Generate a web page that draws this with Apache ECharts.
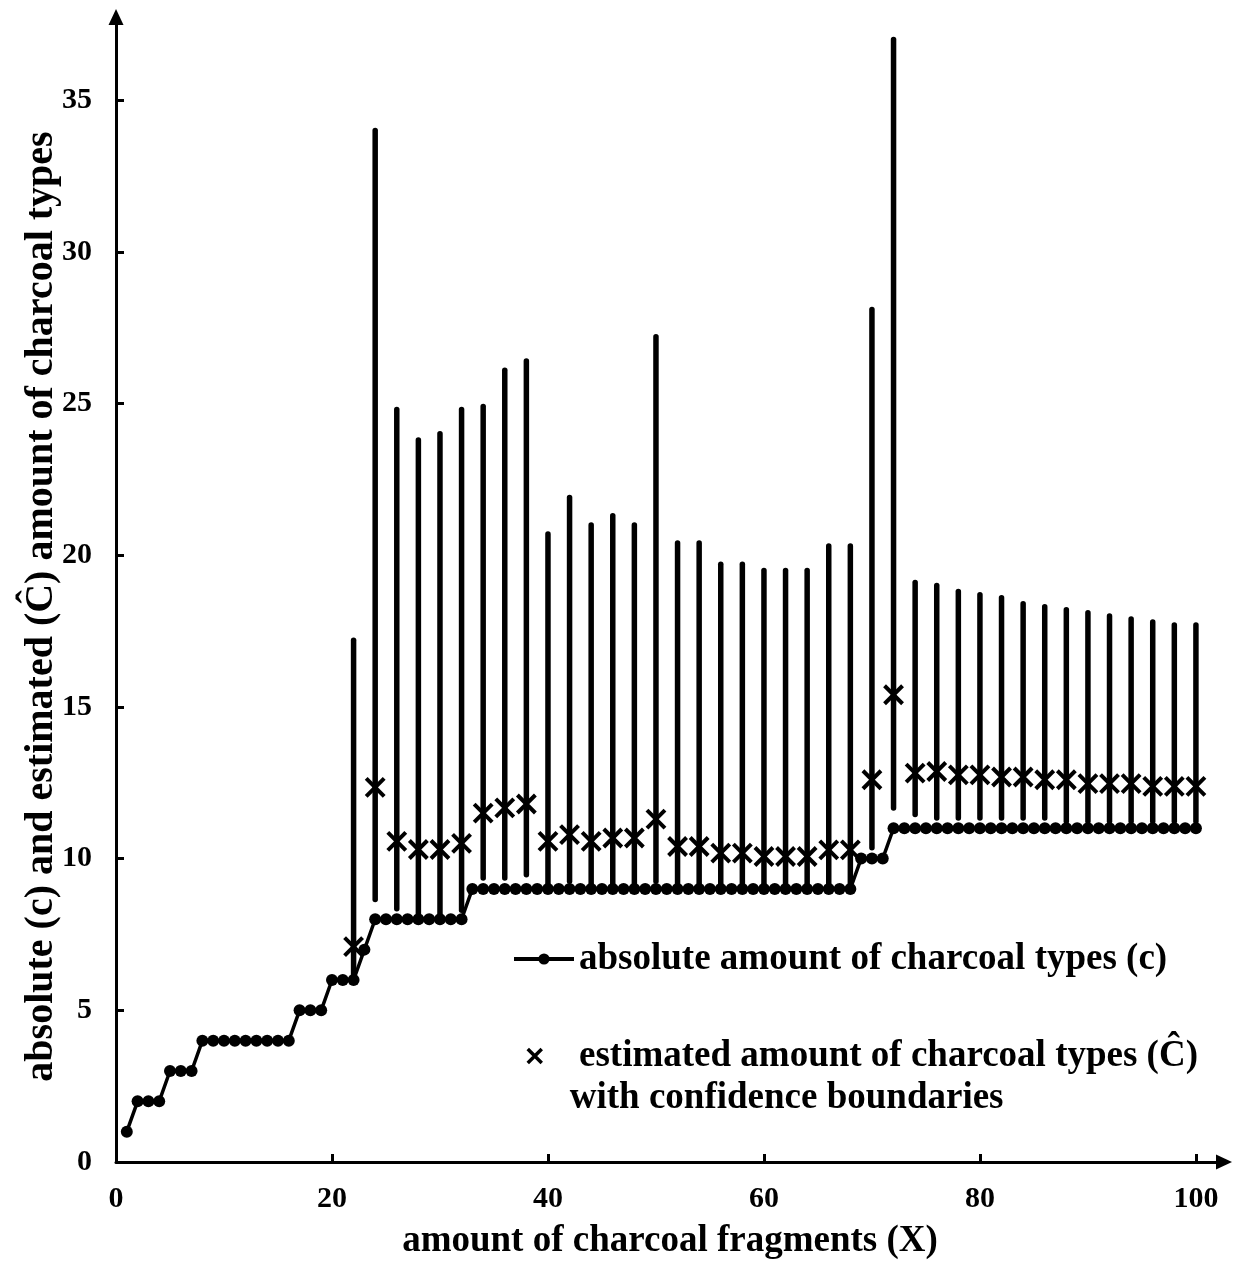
<!DOCTYPE html>
<html>
<head>
<meta charset="utf-8">
<script src="https://cdn.jsdelivr.net/npm/echarts@6/dist/echarts.min.js"></script>
<style>html,body{margin:0;padding:0;background:#fff;}#main{width:1237px;height:1279px;}</style>
</head>
<body>
<div id="main"></div>
<script>
// amount of charcoal fragments (X)
const fragments = [1,2,3,4,5,6,7,8,9,10,11,12,13,14,15,16,17,18,19,20,21,22,23,24,25,26,27,28,29,30,31,32,33,34,35,36,37,38,39,40,41,42,43,44,45,46,47,48,49,50,51,52,53,54,55,56,57,58,59,60,61,62,63,64,65,66,67,68,69,70,71,72,73,74,75,76,77,78,79,80,81,82,83,84,85,86,87,88,89,90,91,92,93,94,95,96,97,98,99,100];
// absolute amount of charcoal types (c)
const absoluteC = [1,2,2,2,3,3,3,4,4,4,4,4,4,4,4,4,5,5,5,6,6,6,7,8,8,8,8,8,8,8,8,8,9,9,9,9,9,9,9,9,9,9,9,9,9,9,9,9,9,9,9,9,9,9,9,9,9,9,9,9,9,9,9,9,9,9,9,9,10,10,10,11,11,11,11,11,11,11,11,11,11,11,11,11,11,11,11,11,11,11,11,11,11,11,11,11,11,11,11,11];
// estimated amount (Ĉ) with confidence boundaries
const estX = [22,24,26,28,30,32,34,36,38,40,42,44,46,48,50,52,54,56,58,60,62,64,66,68,70,72,74,76,78,80,82,84,86,88,90,92,94,96,98,100];
const estC = [7.1,12.35,10.57,10.3,10.3,10.5,11.5,11.67,11.8,10.57,10.79,10.57,10.68,10.68,11.3,10.4,10.4,10.18,10.18,10.07,10.07,10.07,10.29,10.29,12.6,15.4,12.82,12.87,12.76,12.76,12.69,12.69,12.6,12.6,12.47,12.47,12.47,12.38,12.38,12.38];
const lowerB = [6.0,8.65,8.35,8.2,8.2,8.3,9.36,9.36,9.47,9.0,9.25,9.0,9.0,9.0,9.25,9.0,9.0,9.0,9.0,9.0,9.0,9.0,9.0,9.0,10.36,11.67,11.45,11.34,11.34,11.34,11.34,11.34,11.34,11.23,11.23,11.23,11.23,11.23,11.23,11.23];
const upperB = [17.2,34.0,24.8,23.8,24.0,24.8,24.9,26.1,26.4,20.7,21.9,21.0,21.3,21.0,27.2,20.4,20.4,19.7,19.7,19.5,19.5,19.5,20.3,20.3,28.1,37.0,19.1,19.0,18.8,18.7,18.6,18.4,18.3,18.2,18.1,18.0,17.9,17.8,17.7,17.7];
const xTicks = [0,20,40,60,80,100];
const yTicks = [0,5,10,15,20,25,30,35];

const nameAbs = 'absolute amount of charcoal types (c)';
const nameEst = ' estimated amount of charcoal types (\u0108)\nwith confidence boundaries';
const nameBars = 'confidence boundaries';

const FONT = '"Liberation Serif", "Times New Roman", serif';

const chart = echarts.init(document.getElementById('main'), null, {renderer: 'canvas'});

const lineData = fragments.map((x, i) => [x, absoluteC[i]]);
const estData = estX.map((x, i) => [x, estC[i]]);
const barData = estX.map((x, i) => [x, lowerB[i], upperB[i]]);

const option = {
  backgroundColor: '#ffffff',
  animation: false,
  grid: {left: 116, right: 13, top: 17, bottom: 117, containLabel: false},
  legend: [
    {
      data: [nameAbs],
      left: 512, top: 938, padding: 0,
      orient: 'vertical',
      itemWidth: 60, itemHeight: 14,
      lineStyle: {width: 4},
      textStyle: {fontFamily: FONT, fontWeight: 'bold', fontSize: 37, color: '#000', lineHeight: 42},
      inactiveColor: '#000'
    },
    {
      data: [nameEst],
      left: 526, top: 993, padding: 0,
      orient: 'vertical',
      itemWidth: 60, itemHeight: 14,
      itemStyle: {borderWidth: 3.5, borderColor: '#000'},
      formatter: function (n) { return '\n' + n; },
      textStyle: {fontFamily: FONT, fontWeight: 'bold', fontSize: 37, color: '#000', lineHeight: 42},
      inactiveColor: '#000'
    }
  ],
  xAxis: {
    type: 'value', min: 0, max: 102.6,
    name: 'amount of charcoal fragments (X)',
    nameLocation: 'middle', nameGap: 61,
    nameMoveOverlap: false,
    nameTextStyle: {fontFamily: FONT, fontWeight: 'bold', fontSize: 37, color: '#000'},
    axisLine: {show: true, onZero: false, symbol: ['none', 'triangle'], symbolSize: [15, 16], lineStyle: {color: '#000', width: 3}},
    axisTick: {show: true, inside: true, length: 8, lineStyle: {color: '#000', width: 3}, customValues: xTicks},
    axisLabel: {fontFamily: FONT, fontWeight: 'bold', fontSize: 30, color: '#000', margin: 22, customValues: xTicks},
    splitLine: {show: false}
  },
  yAxis: {
    type: 'value', min: 0, max: 37.74,
    name: 'absolute (c) and estimated (\u0108) amount of charcoal types',
    nameLocation: 'middle', nameGap: 54,
    nameMoveOverlap: false,
    nameTextStyle: {fontFamily: FONT, fontWeight: 'bold', fontSize: 40, color: '#000', padding: [0, 34, 0, 0]},
    axisLine: {show: true, onZero: false, symbol: ['none', 'triangle'], symbolSize: [15, 16], lineStyle: {color: '#000', width: 3}},
    axisTick: {show: true, inside: true, length: 8, lineStyle: {color: '#000', width: 3}, customValues: yTicks},
    axisLabel: {fontFamily: FONT, fontWeight: 'bold', fontSize: 30, color: '#000', margin: 24, customValues: yTicks},
    splitLine: {show: false}
  },
  series: [
    {
      name: nameBars,
      type: 'custom',
      z: 1,
      data: barData,
      encode: {x: 0, y: [1, 2]},
      renderItem: function (params, api) {
        const x = api.value(0);
        const p1 = api.coord([x, api.value(1)]);
        const p2 = api.coord([x, api.value(2)]);
        return {
          type: 'line',
          shape: {x1: p1[0], y1: p1[1], x2: p2[0], y2: p2[1]},
          style: {stroke: '#000', lineWidth: 5.5, lineCap: 'round'}
        };
      },
      itemStyle: {color: '#000'}
    },
    {
      name: nameAbs,
      type: 'line',
      z: 3,
      data: lineData,
      symbol: 'circle',
      symbolSize: 12,
      showAllSymbol: true,
      lineStyle: {color: '#000', width: 3.5},
      itemStyle: {color: '#000'}
    },
    {
      name: nameEst,
      type: 'scatter',
      z: 4,
      data: estData,
      symbol: 'path://M0,0L20,20M20,0L0,20',
      symbolSize: 18,
      itemStyle: {color: '#000', borderColor: '#000', borderWidth: 4, opacity: 1}
    }
  ]
};
chart.setOption(option);
</script>
</body>
</html>
